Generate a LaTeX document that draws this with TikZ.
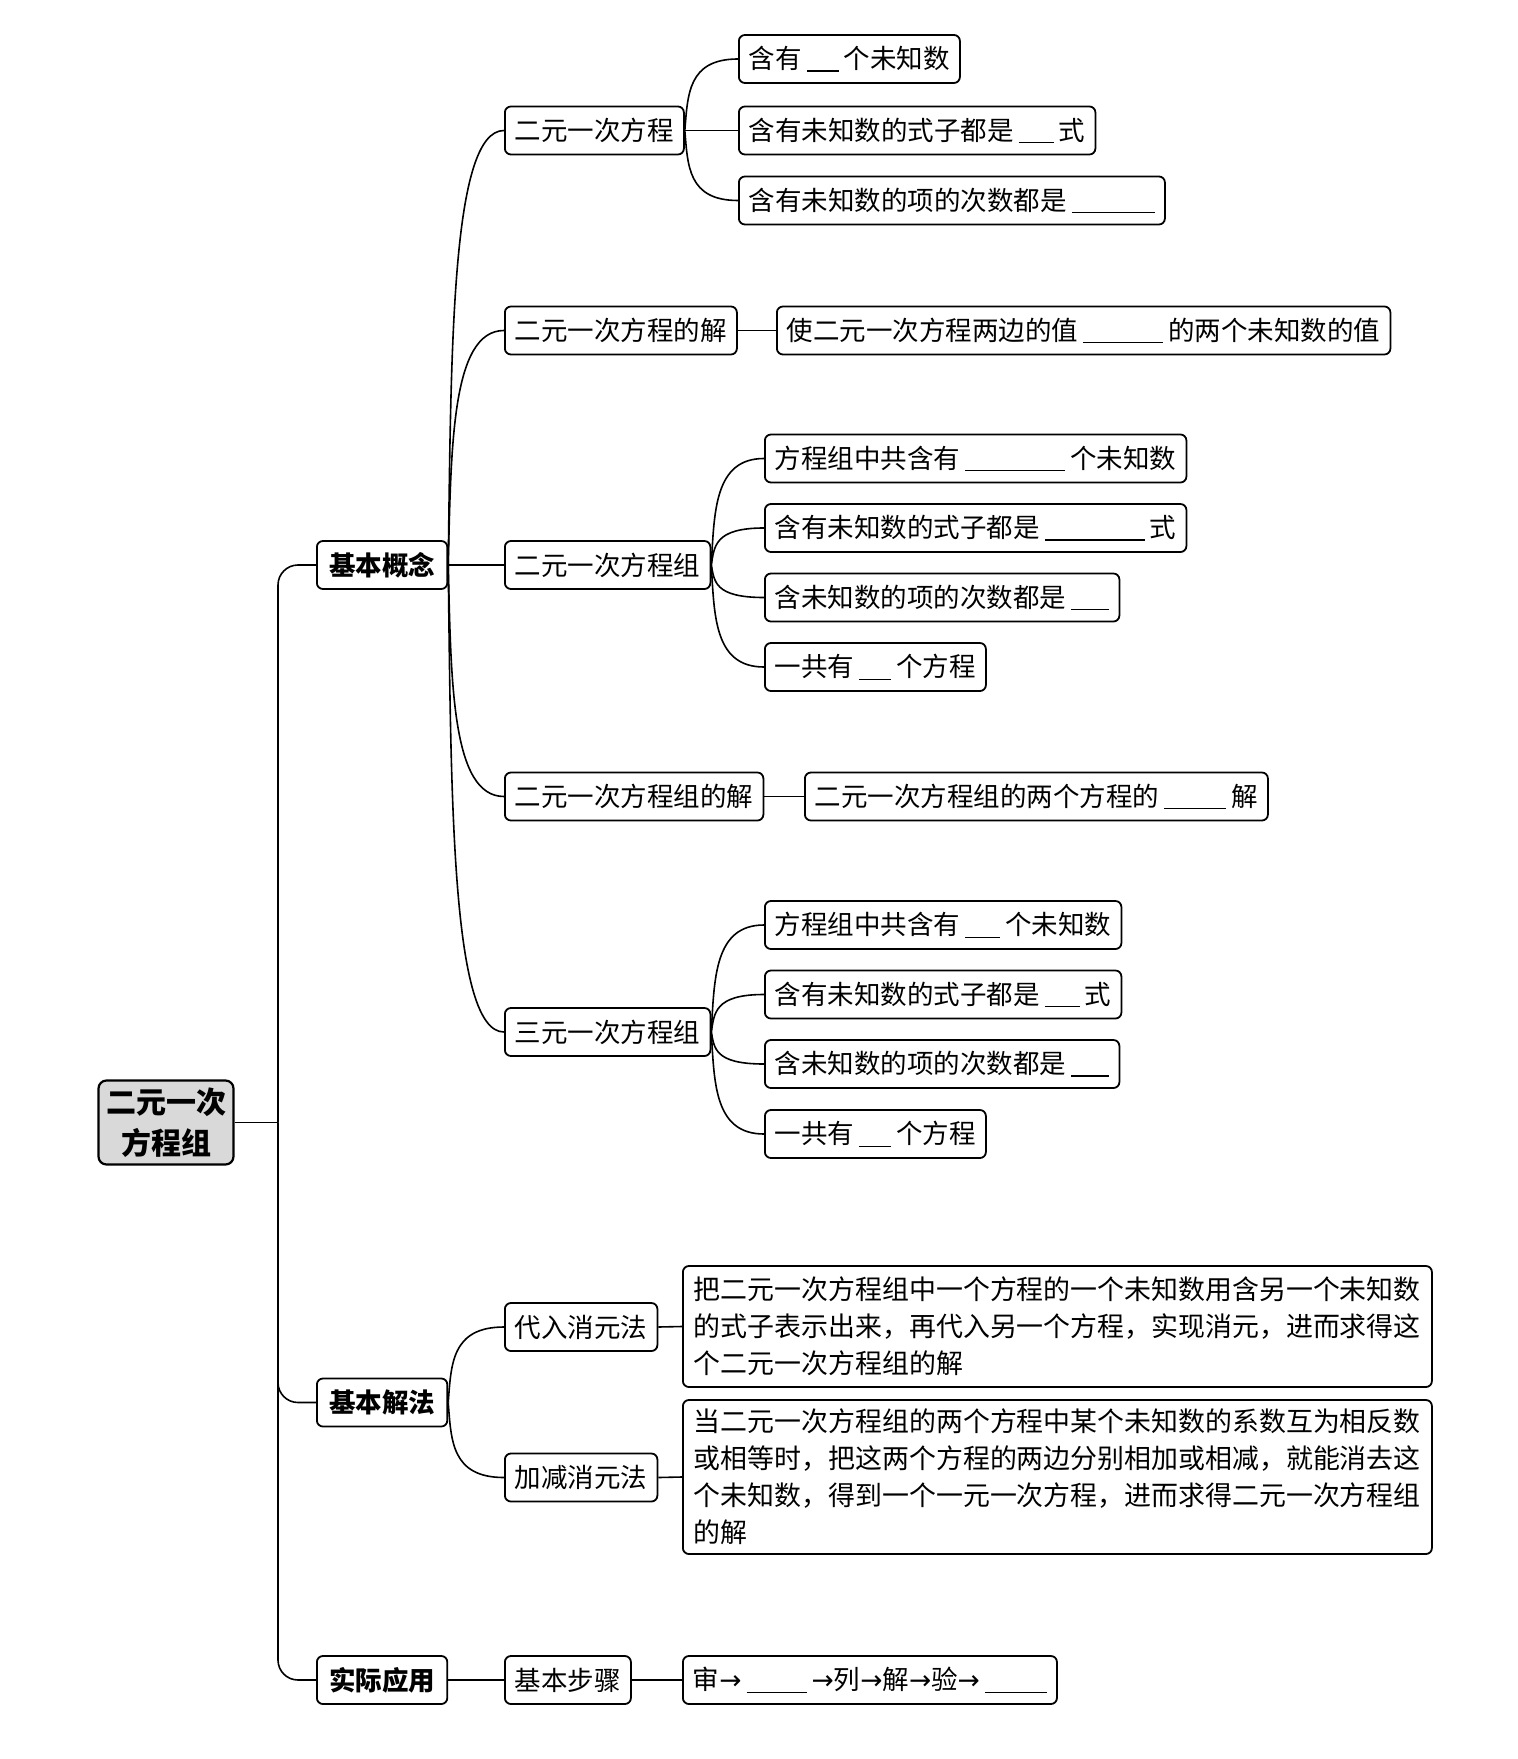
\documentclass[tikz,border=0pt]{standalone}
\usepackage{fontspec}
\setmainfont{Noto Sans CJK SC}
\newfontfamily\arrowfont{DejaVu Sans}
\usetikzlibrary{calc}
\newcommand\blank[1]{\hspace{2.5pt}\rule[-1.5pt]{\dimexpr#1pt-5pt\relax}{0.6pt}\hspace{2.5pt}}
\newcommand\arr{{\arrowfont →}}
\begin{document}
\begin{tikzpicture}[x=0.5pt,y=-0.5pt,
  box/.style={draw, rounded corners=3pt, line width=0.9pt, inner xsep=5pt, inner ysep=2pt,
    minimum height=24pt, anchor=west, font=\fontsize{13.25}{16}\selectfont, fill=white},
  hbox/.style={box, inner xsep=6.1pt, font=\fontsize{13.25}{16}\selectfont\bfseries},
  longbox/.style={box, text width=363.5pt, align=left, inner xsep=5.5pt,
    font=\fontsize{13.46}{18.5}\selectfont},
  link/.style={line width=0.8pt},
  fan/.style={to path={.. controls ($(\tikztostart)!0.5!(\tikztostart|-\tikztotarget)+(3,0)$) and ($(\tikztostart|-\tikztotarget)+(3,0)$) .. (\tikztotarget)}}
]
\useasboundingbox (0,0) rectangle (1517,1759);

% root
\node[draw, rounded corners=4pt, line width=1.1pt, fill=black!15, align=center,
  font=\fontsize{15}{20.75}\selectfont\bfseries, minimum width=67.5pt, minimum height=42pt,
  inner sep=2pt] (root) at (166,1122.5) {二元一次\\方程组};

% level 1
\node[hbox] (k1) at (316,565) {基本概念};
\node[hbox] (k2) at (316,1402.5) {基本解法};
\node[hbox] (k3) at (316,1680) {实际应用};

% level 2
\node[box] (a1) at (504,130.5) {二元一次方程};
\node[box] (a2) at (504,330.5) {二元一次方程的解};
\node[box] (a3) at (504,565) {二元一次方程组};
\node[box] (a4) at (504,796.5) {二元一次方程组的解};
\node[box] (a5) at (504,1032) {三元一次方程组};
\node[box] (b1) at (504,1327) {代入消元法};
\node[box] (b2) at (504,1477.5) {加减消元法};
\node[box] (c1) at (504,1680) {基本步骤};

% level 3
\node[box] (a11) at (738,59) {含有\blank{21}个未知数};
\node[box] (a12) at (738,130.5) {含有未知数的式子都是\blank{22.5}式};
\node[box] (a13) at (738,200.5) {含有未知数的项的次数都是\blank{46.5}};
\node[box] (a21) at (776,330.5) {使二元一次方程两边的值\blank{45}的两个未知数的值};
\node[box] (a31) at (764,458.5) {方程组中共含有\blank{55}个未知数};
\node[box] (a32) at (764,528) {含有未知数的式子都是\blank{55}式};
\node[box] (a33) at (764,597.5) {含未知数的项的次数都是\blank{24}};
\node[box] (a34) at (764,667) {一共有\blank{21}个方程};
\node[box] (a41) at (804,796.5) {二元一次方程组的两个方程的\blank{36}解};
\node[box] (a51) at (764,925) {方程组中共含有\blank{22.5}个未知数};
\node[box] (a52) at (764,994.5) {含有未知数的式子都是\blank{22.5}式};
\node[box] (a53) at (764,1064) {含未知数的项的次数都是\blank{24}};
\node[box] (a54) at (764,1134) {一共有\blank{21}个方程};

\node[longbox, minimum height=60.5pt] (b11) at (682,1326.5) {把二元一次方程组中一个方程的一个未知数用含另一个未知数\\的式子表示出来，再代入另一个方程，实现消元，进而求得这\\个二元一次方程组的解};
\node[longbox, minimum height=77pt] (b21) at (682,1477) {当二元一次方程组的两个方程中某个未知数的系数互为相反数\\或相等时，把这两个方程的两边分别相加或相减，就能消去这\\个未知数，得到一个一元一次方程，进而求得二元一次方程组\\的解};

\node[box] (c11) at (682,1680) {审\arr\blank{35}\arr 列\arr 解\arr 验\arr\blank{36}};

% connectors
\coordinate (tr) at (278,1122.5);
\draw[link] (root.east) -- (tr);
\draw[link, rounded corners=10pt] (tr) |- (k1.west);
\draw[link, rounded corners=10pt] (tr) |- (k2.west);
\draw[link, rounded corners=10pt] (tr) |- (k3.west);

\foreach \c in {a1,a2,a3,a4,a5} \draw[link] (k1.east) to[fan] (\c.west);
\foreach \c in {b1,b2} \draw[link] (k2.east) to[fan] (\c.west);
\draw[link] (k3.east) -- (c1.west);

\foreach \c in {a11,a12,a13} \draw[link] (a1.east) to[fan] (\c.west);
\draw[link] (a2.east) -- (a21.west);
\foreach \c in {a31,a32,a33,a34} \draw[link] (a3.east) to[fan] (\c.west);
\draw[link] (a4.east) -- (a41.west);
\foreach \c in {a51,a52,a53,a54} \draw[link] (a5.east) to[fan] (\c.west);
\draw[link] (b1.east) -- (b11.west);
\draw[link] (b2.east) -- (b21.west);
\draw[link] (c1.east) -- (c11.west);
\end{tikzpicture}
\end{document}
